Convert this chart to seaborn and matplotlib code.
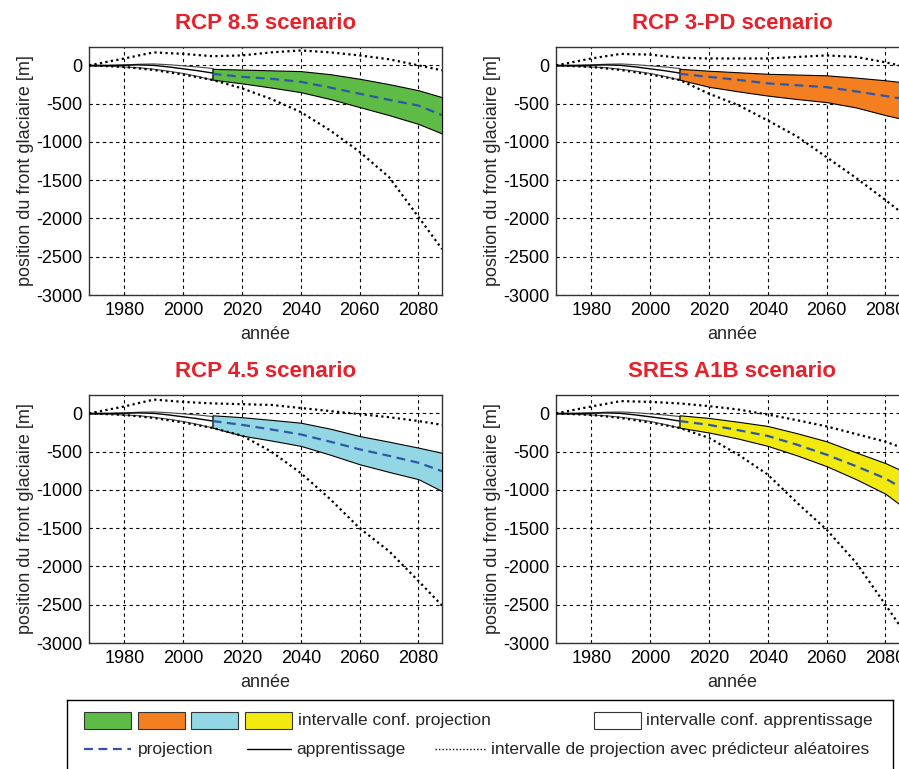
import seaborn as sns
import matplotlib.pyplot as plt
from matplotlib.patches import Rectangle

# learning period (same for all scenarios)
years_learn = [1968, 1975, 1980, 1985, 1990, 1995, 2000, 2005, 2010]
learn_upper = [0, 5, 12, 22, 25, 15, 0, -15, -35]
learn_mid = [0, 0, 2, 6, 0, -20, -45, -70, -100]
learn_lower = [0, -5, -15, -25, -45, -70, -100, -140, -185]

# random-predictor interval (dotted)
years_dot = [1968, 1980, 1990, 2000, 2010, 2020, 2030, 2040, 2050, 2060, 2070, 2080, 2088]
rcp85_dot_hi = [0, 90, 170, 150, 120, 130, 170, 195, 170, 130, 80, 0, -65]
rcp85_dot_lo = [0, -20, -60, -120, -190, -300, -440, -610, -850, -1130, -1460, -1980, -2400]
rcp3pd_dot_hi = [0, 90, 150, 140, 100, 90, 90, 90, 110, 130, 110, 40, -30]
rcp3pd_dot_lo = [0, -20, -60, -120, -190, -370, -520, -720, -930, -1200, -1470, -1760, -2000]
rcp45_dot_hi = [0, 90, 180, 150, 130, 120, 110, 70, 30, -10, -50, -100, -150]
rcp45_dot_lo = [0, -20, -60, -120, -190, -290, -500, -780, -1120, -1500, -1800, -2190, -2510]
a1b_dot_hi = [0, 90, 160, 150, 130, 95, 50, -15, -90, -170, -270, -370, -480]
a1b_dot_lo = [0, -20, -60, -120, -190, -320, -540, -800, -1170, -1520, -1950, -2500, -2950]

# projection band and central projection
years_proj = [2010, 2020, 2030, 2040, 2050, 2060, 2070, 2080, 2088]
rcp85_top = [-45, -55, -65, -75, -115, -175, -245, -325, -415]
rcp85_bot = [-187, -235, -290, -350, -440, -545, -650, -765, -890]
rcp85_proj = [-110, -150, -175, -215, -290, -370, -450, -525, -650]
rcp3pd_top = [-45, -70, -90, -110, -120, -130, -160, -195, -230]
rcp3pd_bot = [-187, -280, -340, -395, -440, -480, -550, -650, -720]
rcp3pd_proj = [-110, -150, -190, -235, -260, -285, -340, -400, -450]
rcp45_top = [-25, -50, -85, -122, -200, -296, -370, -448, -515]
rcp45_bot = [-187, -290, -355, -425, -540, -665, -765, -860, -1015]
rcp45_proj = [-100, -150, -210, -275, -370, -470, -555, -645, -755]
a1b_top = [-25, -60, -110, -165, -260, -365, -510, -650, -790]
a1b_bot = [-187, -250, -330, -425, -550, -690, -860, -1050, -1280]
a1b_proj = [-100, -150, -220, -295, -410, -540, -690, -850, -1030]

titles = ['RCP 8.5 scenario', 'RCP 3-PD scenario', 'RCP 4.5 scenario', 'SRES A1B scenario']
band_colors = ['#5DBB46', '#F47F20', '#93D7E5', '#F2E90F']
x_ticks = [1980, 2000, 2020, 2040, 2060, 2080]
y_ticks = [0, -500, -1000, -1500, -2000, -2500, -3000]

scenarios = [
    (rcp85_dot_hi, rcp85_dot_lo, rcp85_top, rcp85_bot, rcp85_proj),
    (rcp3pd_dot_hi, rcp3pd_dot_lo, rcp3pd_top, rcp3pd_bot, rcp3pd_proj),
    (rcp45_dot_hi, rcp45_dot_lo, rcp45_top, rcp45_bot, rcp45_proj),
    (a1b_dot_hi, a1b_dot_lo, a1b_top, a1b_bot, a1b_proj),
]

sns.set_theme(style='white')
plt.rcParams['font.family'] = ['Liberation Sans', 'DejaVu Sans']
plt.rcParams['axes.unicode_minus'] = False

W, H = 899, 769
fig = plt.figure(figsize=(W / 100, H / 100), dpi=100)

# axes boxes in pixels: left, top
boxes = [(89, 47), (556, 47), (89, 395), (556, 395)]
aw, ah = 353, 248

for i, (left, top) in enumerate(boxes):
    ax = fig.add_axes([left / W, 1 - (top + ah) / H, aw / W, ah / H])
    dot_hi, dot_lo, top_v, bot_v, proj = scenarios[i]

    # learning confidence interval
    ax.fill_between(years_learn, learn_upper, learn_lower, facecolor='white',
                    edgecolor='#444444', lw=0.8, zorder=3)
    sns.lineplot(x=years_learn, y=learn_mid, ax=ax, color='black', lw=1.0, zorder=4)

    # projection confidence band
    ax.fill_between(years_proj, top_v, bot_v, facecolor=band_colors[i],
                    edgecolor='black', lw=0.8, zorder=3)
    sns.lineplot(x=years_proj, y=proj, ax=ax, color='#2E58A6', lw=1.6,
                 linestyle=(0, (4, 2.5)), zorder=5)

    # random-predictor interval
    sns.lineplot(x=years_dot, y=dot_hi, ax=ax, color='black', lw=1.6,
                 linestyle=(0, (1, 1.5)), zorder=6)
    sns.lineplot(x=years_dot, y=dot_lo, ax=ax, color='black', lw=1.6,
                 linestyle=(0, (1, 1.5)), zorder=6)

    ax.set_xlim(1968, 2088)
    ax.set_ylim(-3000, 240)
    ax.set_xticks(x_ticks)
    ax.set_yticks(y_ticks)
    ax.tick_params(labelsize=13, colors='black', direction='in', length=3, pad=5)
    ax.grid(True, color='black', linestyle=(0, (3, 3)), lw=0.8)
    ax.set_axisbelow(True)
    for s in ax.spines.values():
        s.set_color('#333333')
        s.set_linewidth(1.0)
    ax.set_xlabel('année', fontsize=13, labelpad=5)
    ax.set_ylabel('position du front glaciaire [m]', fontsize=13, labelpad=1)
    ax.set_title(titles[i], color='#E8202A', fontsize=16, fontweight='bold', pad=13)

# legend box drawn in pixel units
lax = fig.add_axes([67 / W, -10 / H, (893 - 67) / W, (779 - 700) / H])
lax.set_xlim(67, 893)
lax.set_ylim(779, 700)
lax.set_xticks([])
lax.set_yticks([])
for s in lax.spines.values():
    s.set_color('black')
    s.set_linewidth(1.0)

for j, c in enumerate(band_colors):
    lax.add_patch(Rectangle((84 + j * 53.7, 711.5), 47, 17, facecolor=c, edgecolor='#333333', lw=0.8))
lax.text(298, 720, 'intervalle conf. projection', fontsize=12.5, va='center', ha='left')
lax.add_patch(Rectangle((594, 711.5), 47, 17, facecolor='white', edgecolor='#333333', lw=0.8))
lax.text(646, 720, 'intervalle conf. apprentissage', fontsize=12.5, va='center', ha='left')

lax.plot([84, 131], [749, 749], color='#2E58A6', lw=1.6, linestyle=(0, (4, 2.5)))
lax.text(138, 749, 'projection', fontsize=12.5, va='center', ha='left')
lax.plot([247, 291], [749, 749], color='black', lw=1.0)
lax.text(296, 749, 'apprentissage', fontsize=12.5, va='center', ha='left')
lax.plot([435, 486], [749, 749], color='black', lw=1.0, linestyle=(0, (1, 1.5)))
lax.text(491, 749, 'intervalle de projection avec prédicteur aléatoires', fontsize=12.5,
         va='center', ha='left')

fig.savefig('out.png', dpi=100, facecolor='white')
